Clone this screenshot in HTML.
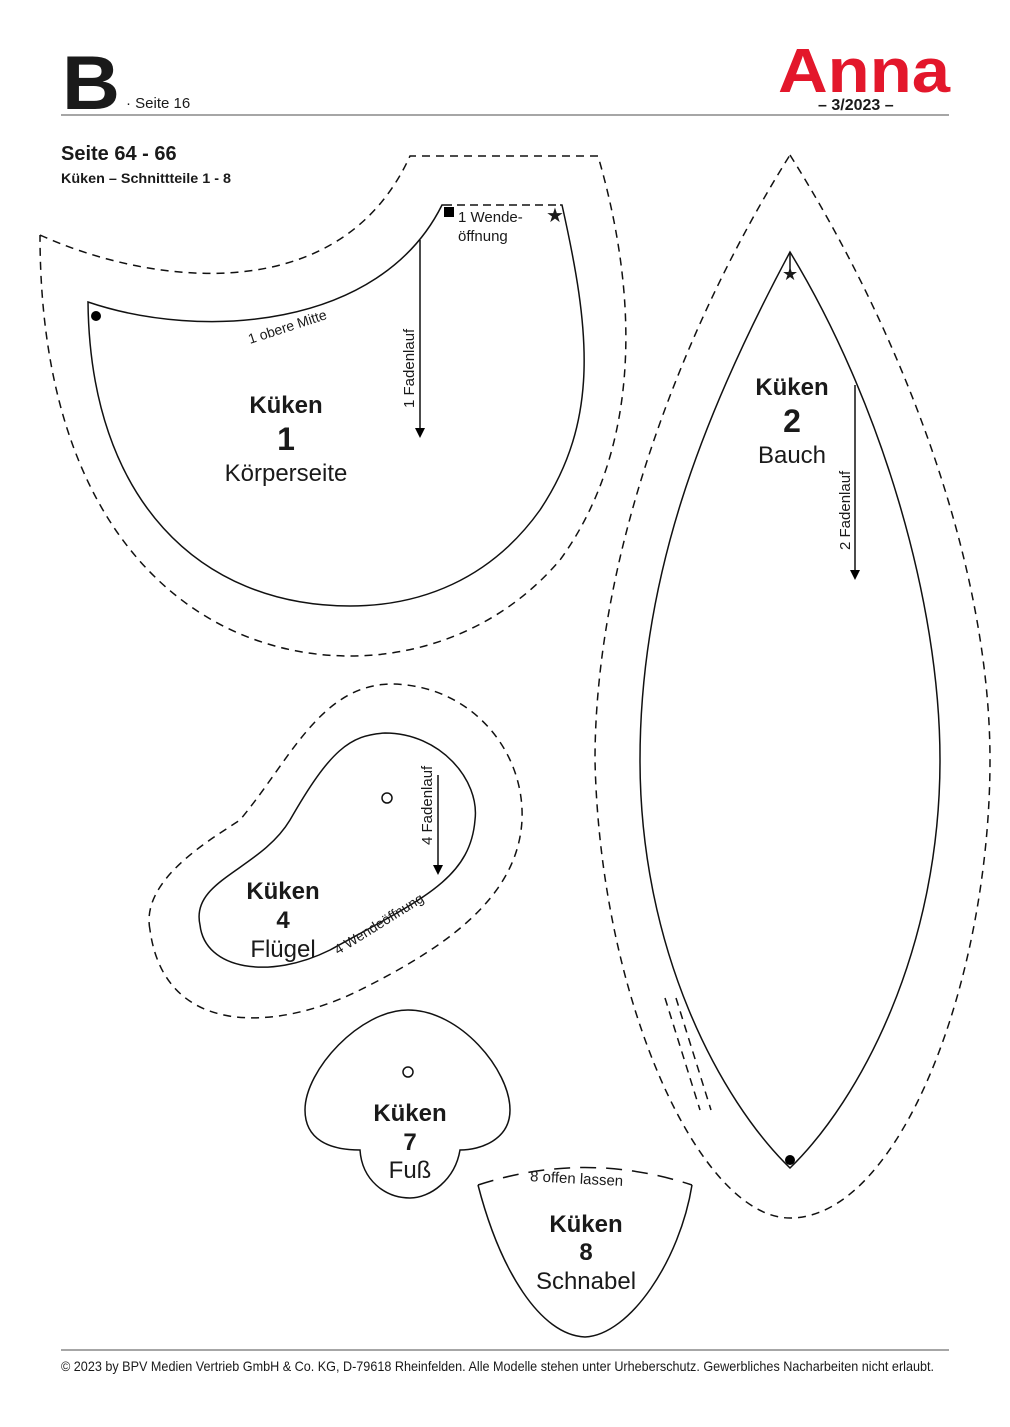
<!DOCTYPE html>
<html><head><meta charset="utf-8"><style>
html,body{margin:0;padding:0;background:#fff}
svg{display:block}
text{font-family:"Liberation Sans",sans-serif;fill:#1a1a1a}
</style></head><body>
<svg width="1010" height="1427" viewBox="0 0 1010 1427" xmlns="http://www.w3.org/2000/svg">
<text x="62" y="109" font-size="76" font-weight="bold" textLength="58" lengthAdjust="spacingAndGlyphs">B</text>
<text x="126" y="108" font-size="15">· Seite 16</text>
<text x="778" y="92" font-size="62" font-weight="bold" style="fill:#e3172b" textLength="172" lengthAdjust="spacingAndGlyphs">Anna</text>
<text x="818" y="110" font-size="16" font-weight="bold">– 3/2023 –</text>
<line x1="61" y1="115" x2="949" y2="115" stroke="#888" stroke-width="1.5"/>
<text x="61" y="160" font-size="20" font-weight="bold">Seite 64 - 66</text>
<text x="61" y="183" font-size="14" font-weight="bold" textLength="170" lengthAdjust="spacingAndGlyphs">Küken – Schnittteile 1 - 8</text>

<g fill="none" stroke="#111" stroke-width="1.5">
<path d="M88,302 C200,340 380,330 442,205 L562,205 C590,330 600,420 540,510 C490,580 420,606 350,606 C200,606 90,500 88,302 Z"/>
<path stroke-dasharray="8,6" d="M40,235 C150,285 340,310 410,156 L598,156 C640,300 640,450 560,560 C500,630 420,656 350,656 C200,656 40,540 40,235"/>
<path stroke="#fff" stroke-width="3" d="M444,205 L560,205"/>
<path stroke-dasharray="8,5" d="M444,205 L560,205"/>
<line x1="420" y1="240" x2="420" y2="432"/>
<path d="M790,252 C880,400 940,600 940,760 C940,950 860,1100 790,1168 C720,1100 640,950 640,760 C640,580 700,420 790,252 Z"/>
<path stroke-dasharray="8,6" d="M790,155 C900,330 990,560 990,760 C990,980 900,1218 790,1218 C700,1218 600,1000 595,760 C595,560 680,330 790,155 Z"/>
<line x1="665" y1="998" x2="700" y2="1110" stroke-dasharray="8,6"/>
<line x1="676" y1="998" x2="711" y2="1110" stroke-dasharray="8,6"/>
<line x1="790" y1="252" x2="790" y2="275"/>
<line x1="855" y1="385" x2="855" y2="575"/>
<path d="M200,925 C190,880 260,870 290,820 C330,750 350,735 385,733 C440,733 480,780 475,820 C470,880 420,900 330,950 C270,980 205,970 200,925 Z"/>
<path stroke-dasharray="8,6" d="M150,930 C140,880 210,840 240,820 C290,760 320,686 390,684 C470,684 525,750 522,820 C518,900 440,950 360,990 C280,1030 165,1040 150,930 Z"/>
<line x1="438" y1="775" x2="438" y2="870"/>
<circle cx="387" cy="798" r="5"/>
<path d="M408,1010 C460,1010 510,1070 510,1110 C510,1140 480,1150 460,1150 C455,1180 430,1198 410,1198 C385,1198 362,1180 360,1150 C330,1150 305,1140 305,1110 C305,1070 360,1010 408,1010 Z"/>
<circle cx="408" cy="1072" r="5"/>
<path stroke-dasharray="16,10" d="M478,1185 Q585,1150 692,1185"/>
<path d="M478,1185 C500,1270 540,1335 585,1337 C630,1335 680,1260 692,1185"/>
</g>
<path d="M415,428 L420,438 L425,428 Z M850,570 L855,580 L860,570 Z M433,865 L438,875 L443,865 Z"/>
<rect x="444" y="207" width="10" height="10"/>
<circle cx="96" cy="316" r="5"/>
<circle cx="790" cy="1160" r="5"/>
<text x="546" y="222" font-size="20">★</text>
<text x="782" y="280" font-size="18">★</text>

<text x="458" y="222" font-size="15">1 Wende-</text>
<text x="458" y="241" font-size="15">öffnung</text>
<text x="250" y="344" font-size="14" transform="rotate(-18 250 344)">1 obere Mitte</text>
<text x="414" y="408" font-size="15" transform="rotate(-90 414 408)">1  Fadenlauf</text>
<text x="286" y="413" font-size="24" font-weight="bold" text-anchor="middle">Küken</text>
<text x="286" y="450" font-size="32" font-weight="bold" text-anchor="middle">1</text>
<text x="286" y="481" font-size="24" text-anchor="middle">Körperseite</text>

<text x="792" y="395" font-size="24" font-weight="bold" text-anchor="middle">Küken</text>
<text x="792" y="432" font-size="32" font-weight="bold" text-anchor="middle">2</text>
<text x="792" y="463" font-size="24" text-anchor="middle">Bauch</text>
<text x="850" y="550" font-size="15" transform="rotate(-90 850 550)">2  Fadenlauf</text>

<text x="432" y="845" font-size="15" transform="rotate(-90 432 845)">4  Fadenlauf</text>
<text x="338" y="955" font-size="14" transform="rotate(-32 338 955)">4  Wendeöffnung</text>
<text x="283" y="899" font-size="24" font-weight="bold" text-anchor="middle">Küken</text>
<text x="283" y="928" font-size="24" font-weight="bold" text-anchor="middle">4</text>
<text x="283" y="957" font-size="24" text-anchor="middle">Flügel</text>

<text x="410" y="1121" font-size="24" font-weight="bold" text-anchor="middle">Küken</text>
<text x="410" y="1150" font-size="24" font-weight="bold" text-anchor="middle">7</text>
<text x="410" y="1178" font-size="24" text-anchor="middle">Fuß</text>

<text x="530" y="1184" font-size="15" transform="rotate(3 585 1180)">8  offen lassen</text>
<text x="586" y="1232" font-size="24" font-weight="bold" text-anchor="middle">Küken</text>
<text x="586" y="1260" font-size="24" font-weight="bold" text-anchor="middle">8</text>
<text x="586" y="1289" font-size="24" text-anchor="middle">Schnabel</text>

<line x1="61" y1="1350" x2="949" y2="1350" stroke="#888" stroke-width="1.5"/>
<text x="61" y="1371" font-size="14" textLength="873" lengthAdjust="spacingAndGlyphs">© 2023 by BPV Medien Vertrieb GmbH &amp; Co. KG, D-79618 Rheinfelden. Alle Modelle stehen unter Urheberschutz. Gewerbliches Nacharbeiten nicht erlaubt.</text>
</svg>
</body></html>
